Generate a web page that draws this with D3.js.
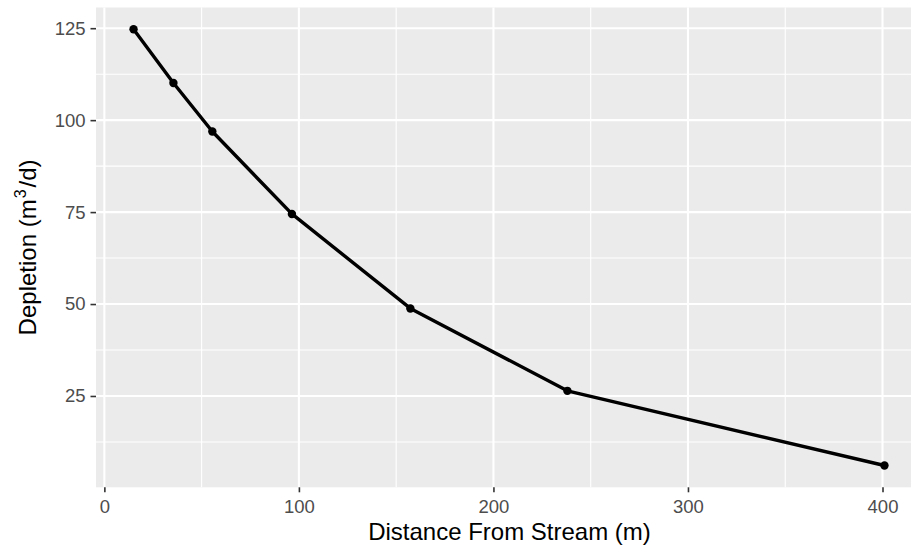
<!DOCTYPE html>
<html>
<head>
<meta charset="utf-8">
<script src="https://cdn.jsdelivr.net/npm/d3@7"></script>
<style>
  html, body { margin: 0; padding: 0; background: #fff; }
  svg { display: block; }
  text { font-family: "Liberation Sans", Arial, sans-serif; }
</style>
</head>
<body>
<svg id="chart" width="911" height="549"></svg>
<script>
// ---- data ----
const distance = [15, 35.5, 55.5, 96.4, 157.3, 238, 401];
const depletion = [124.7, 110.1, 96.9, 74.5, 48.8, 26.4, 6.1];
const xTicks = [0, 100, 200, 300, 400];
const yTicks = [25, 50, 75, 100, 125];
const xMinor = [50, 150, 250, 350];
const yMinor = [12.5, 37.5, 62.5, 87.5, 112.5];
const xTitle = "Distance From Stream (m)";

// ---- layout ----
const W = 911, H = 549;
const panel = { left: 96, top: 7.5, right: 922, bottom: 487.3 };

const svg = d3.select("#chart");
svg.append("rect").attr("width", W).attr("height", H).attr("fill", "#fff");

function expand(ext) {
  const d = (ext[1] - ext[0]) * 0.05;
  return [ext[0] - d, ext[1] + d];
}
const x = d3.scaleLinear().domain(expand(d3.extent(distance))).range([panel.left, panel.right]);
const y = d3.scaleLinear().domain(expand(d3.extent(depletion))).range([panel.bottom, panel.top]);

// panel background
svg.append("rect")
  .attr("x", panel.left).attr("y", panel.top)
  .attr("width", panel.right - panel.left).attr("height", panel.bottom - panel.top)
  .attr("fill", "#EBEBEB");

const grid = svg.append("g");
// minor grid
grid.selectAll(".xm").data(xMinor).join("line")
  .attr("x1", d => x(d)).attr("x2", d => x(d))
  .attr("y1", panel.top).attr("y2", panel.bottom)
  .attr("stroke", "#fff").attr("stroke-width", 1.1);
grid.selectAll(".ym").data(yMinor).join("line")
  .attr("y1", d => y(d)).attr("y2", d => y(d))
  .attr("x1", panel.left).attr("x2", panel.right)
  .attr("stroke", "#fff").attr("stroke-width", 1.1);
// major grid
grid.selectAll(".xM").data(xTicks).join("line")
  .attr("x1", d => x(d)).attr("x2", d => x(d))
  .attr("y1", panel.top).attr("y2", panel.bottom)
  .attr("stroke", "#fff").attr("stroke-width", 2.1);
grid.selectAll(".yM").data(yTicks).join("line")
  .attr("y1", d => y(d)).attr("y2", d => y(d))
  .attr("x1", panel.left).attr("x2", panel.right)
  .attr("stroke", "#fff").attr("stroke-width", 2.1);

// axes
const xAxis = svg.append("g")
  .attr("transform", `translate(0,${panel.bottom})`)
  .call(d3.axisBottom(x).tickValues(xTicks).tickSize(5).tickPadding(7.5).tickFormat(d3.format("d")));
const yAxis = svg.append("g")
  .attr("transform", `translate(${panel.left},0)`)
  .call(d3.axisLeft(y).tickValues(yTicks).tickSize(5.5).tickPadding(5).tickFormat(d3.format("d")));
[xAxis, yAxis].forEach(a => {
  a.select(".domain").remove();
  a.selectAll(".tick line").attr("stroke", "#333").attr("stroke-width", 1.6);
  a.selectAll(".tick text").attr("fill", "#4D4D4D").attr("font-size", 18.5)
    .attr("font-family", "'Liberation Sans', Arial, sans-serif");
});

// line + points
const line = d3.line().x((d, i) => x(distance[i])).y(d => y(d));
svg.append("path").datum(depletion)
  .attr("d", line).attr("fill", "none")
  .attr("stroke", "#000").attr("stroke-width", 3.4).attr("stroke-linejoin", "round");
svg.append("g").selectAll("circle").data(depletion).join("circle")
  .attr("cx", (d, i) => x(distance[i])).attr("cy", d => y(d))
  .attr("r", 4.2).attr("fill", "#000");

// titles
svg.append("text")
  .attr("x", 509.5).attr("y", 540)
  .attr("text-anchor", "middle").attr("font-size", 24).attr("fill", "#000")
  .text(xTitle);
const yt = svg.append("text")
  .attr("transform", `translate(36,${(panel.top + panel.bottom) / 2}) rotate(-90)`)
  .attr("text-anchor", "middle").attr("font-size", 24).attr("fill", "#000");
yt.append("tspan").text("Depletion (m");
yt.append("tspan").attr("font-size", 16).attr("dy", -10).attr("dx", 1).text("3");
yt.append("tspan").attr("dy", 10).attr("dx", 2).text("/d)");
</script>
</body>
</html>
